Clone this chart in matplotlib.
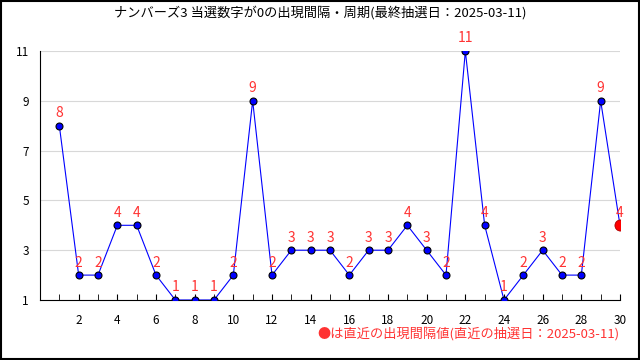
import matplotlib
matplotlib.use('Agg')
import matplotlib.pyplot as plt
from matplotlib.patches import Rectangle

plt.rcParams['font.family'] = ['Noto Sans CJK JP', 'DejaVu Sans']

title = "ナンバーズ3 当選数字が0の出現間隔・周期(最終抽選日：2025-03-11)"
note = "●は直近の出現間隔値(直近の抽選日：2025-03-11)"
draws = list(range(1, 31))
intervals = [8, 2, 2, 4, 4, 2, 1, 1, 1, 2, 9, 2, 3, 3, 3, 2, 3, 3, 4, 3,
             2, 11, 4, 1, 2, 3, 2, 2, 9, 4]
yticks = [1, 3, 5, 7, 9, 11]
xticks = list(range(2, 31, 2))

fig = plt.figure(figsize=(6.4, 3.6), dpi=100)
ax = fig.add_axes([40 / 640, 1 - 300 / 360, 580 / 640, 249 / 360])

ax.plot(draws, intervals, color='blue', linewidth=0.8, zorder=2)
ax.plot(draws[:-1], intervals[:-1], 'o', color='blue', markeredgecolor='black',
        markeredgewidth=0.8, markersize=5, zorder=3)
ax.plot(draws[-1], intervals[-1], 'o', color='red', markeredgecolor='#aa0000',
        markeredgewidth=0.6, markersize=8, zorder=4)

for x, y in zip(draws, intervals):
    ax.annotate(str(y), (x, y), xytext=(0, 4), textcoords='offset points',
                ha='center', va='bottom', color='#ff3333', fontsize=10,
                zorder=5, annotation_clip=False)

ax.set_xlim(0, 30)
ax.set_ylim(1, 11)
ax.set_yticks(yticks)
ax.set_xticks(xticks)
ax.set_xticks(range(1, 31), minor=True)
ax.yaxis.grid(True, color='#d8d8d8', linewidth=0.8)
ax.set_axisbelow(True)
ax.spines['top'].set_visible(False)
ax.spines['right'].set_visible(False)
ax.tick_params(axis='y', length=0, labelsize=8.5, pad=8)
ax.tick_params(axis='x', which='both', direction='in', length=4, labelsize=8.5, pad=10)

fig.text(0.5, 1 - 13 / 360, title, ha='center', va='center', fontsize=9.5)
fig.text(620 / 640, 1 - 334 / 360, note, ha='right', va='center', fontsize=9.5,
         color='#ff3333')
fig.patches.append(Rectangle((0.001, 0.002), 0.997, 0.996, transform=fig.transFigure,
                             fill=False, edgecolor='black', linewidth=1.5))

fig.savefig('out.png', dpi=100)
